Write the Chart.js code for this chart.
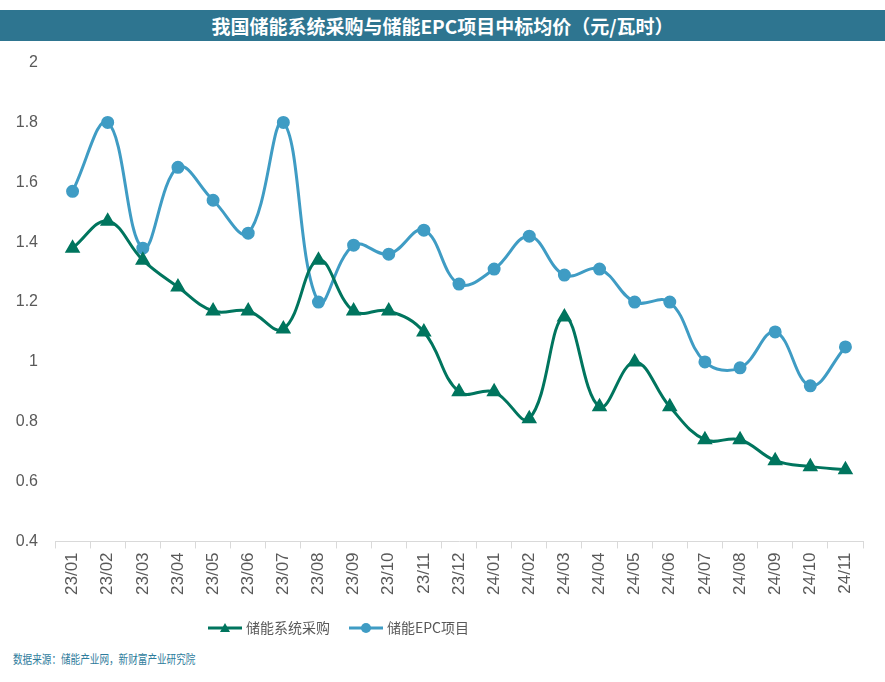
<!DOCTYPE html>
<html>
<head>
<meta charset="utf-8">
<script src="https://cdn.jsdelivr.net/npm/chart.js@4"></script>
<style>
  body { margin: 0; background: #fff; width: 885px; height: 682px; position: relative; overflow: hidden; font-family: "Noto Sans CJK SC", sans-serif; }
  #title { position: absolute; left: 0; top: 10px; width: 885px; height: 31px; background: #2E7590; color: #fff; font-weight: bold; font-size: 19px; line-height: 31px; text-align: center; }
  #wrap { position: absolute; left: 0; top: 36px; width: 885px; height: 609px; }
  #source { position: absolute; left: 13px; top: 650px; font-size: 12px; color: #2E7C9C; transform: scaleX(0.8); transform-origin: left center; white-space: nowrap; }
</style>
</head>
<body>
<div id="title">我国储能系统采购与储能EPC项目中标均价（元/瓦时）</div>
<div id="wrap"><canvas id="c"></canvas></div>
<div id="source">数据来源：储能产业网，新财富产业研究院</div>
<script>
const months = ['23/01','23/02','23/03','23/04','23/05','23/06','23/07','23/08','23/09','23/10','23/11','23/12',
  '24/01','24/02','24/03','24/04','24/05','24/06','24/07','24/08','24/09','24/10','24/11'];
const systemPrice = [1.38, 1.47, 1.34, 1.25, 1.17, 1.17, 1.11, 1.34, 1.17, 1.17, 1.10, 0.90,
  0.90, 0.81, 1.15, 0.85, 1.00, 0.85, 0.74, 0.74, 0.67, 0.65, 0.64];
const epcPrice = [1.57, 1.80, 1.38, 1.65, 1.54, 1.43, 1.80, 1.20, 1.39, 1.36, 1.44, 1.26,
  1.31, 1.42, 1.29, 1.31, 1.20, 1.20, 1.00, 0.98, 1.10, 0.92, 1.05];
const yTicks = [0.4, 0.6, 0.8, 1, 1.2, 1.4, 1.6, 1.8, 2];

const green = '#00755E';
const blue = '#3F9CC4';

// legend symbol: short line with marker in the middle
function legendIcon(color, shape) {
  const cv = document.createElement('canvas');
  cv.width = 34; cv.height = 12;
  const g = cv.getContext('2d');
  g.strokeStyle = color; g.lineWidth = 3;
  g.beginPath(); g.moveTo(0, 6); g.lineTo(34, 6); g.stroke();
  g.fillStyle = color;
  g.beginPath();
  if (shape === 'triangle') { g.moveTo(17, 1); g.lineTo(22, 10); g.lineTo(12, 10); g.closePath(); }
  else { g.arc(17, 6, 5, 0, Math.PI * 2); }
  g.fill();
  return cv;
}

// the legend in the original sits left of centre
const legendShift = {
  id: 'legendShift',
  afterLayout(chart) {
    const lg = chart.legend;
    const w = lg.right - lg.left;
    lg.left = 189;
    lg.right = lg.left + w;
  }
};

new Chart(document.getElementById('c'), {
  type: 'line',
  data: {
    labels: months,
    datasets: [
      {
        label: '储能系统采购',
        data: systemPrice,
        borderColor: green,
        backgroundColor: green,
        borderWidth: 3,
        tension: 0.4,
        pointStyle: 'triangle',
        pointRadius: 6,
        pointHoverRadius: 6
      },
      {
        label: '储能EPC项目',
        data: epcPrice,
        borderColor: blue,
        backgroundColor: blue,
        borderWidth: 3,
        tension: 0.4,
        pointStyle: 'circle',
        pointRadius: 5,
        pointHoverRadius: 5
      }
    ]
  },
  plugins: [legendShift],
  options: {
    responsive: true,
    maintainAspectRatio: false,
    animation: false,
    layout: { padding: { top: 2, right: 22, left: 0, bottom: 0 } },
    scales: {
      y: {
        min: 0.4, max: 2,
        afterFit: s => { s.width = 55; },
        afterBuildTicks: s => { s.ticks = yTicks.map(v => ({ value: v })); },
        grid: { display: false, drawTicks: false },
        border: { display: false },
        ticks: { color: '#595959', font: { family: 'Liberation Sans', size: 16 }, padding: 17,
          callback: v => String(Math.round(v * 10) / 10) }
      },
      x: {
        offset: true,
        grid: { display: true, drawOnChartArea: false, color: '#D9D9D9', tickLength: 7, offset: true },
        border: { color: '#D9D9D9', width: 1 },
        ticks: { color: '#595959', minRotation: 90, maxRotation: 90, font: { family: 'Liberation Sans', size: 17 }, padding: 4 }
      }
    },
    plugins: {
      legend: {
        position: 'bottom',
        align: 'start',
        labels: {
          usePointStyle: true,
          pointStyleWidth: 28,
          color: '#595959',
          font: { family: 'Noto Sans CJK SC', size: 14 },
          padding: 22,
          generateLabels: chart => chart.data.datasets.map((ds, i) => ({
            text: ds.label,
            fontColor: '#595959',
            pointStyle: legendIcon(ds.borderColor, i === 0 ? 'triangle' : 'circle'),
            datasetIndex: i,
            hidden: false,
            lineWidth: 0
          }))
        }
      },
      tooltip: { enabled: false }
    }
  }
});
</script>
</body>
</html>
